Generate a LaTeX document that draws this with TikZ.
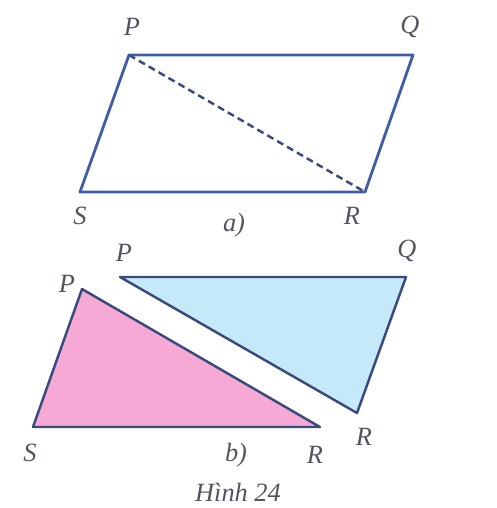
\documentclass[tikz,border=0pt]{standalone}
\usepackage{fontspec}
\setmainfont{Liberation Serif}
\usetikzlibrary{positioning}
\definecolor{edgeblue}{HTML}{3F5DA6}
\definecolor{edgenavy}{HTML}{3A4A7C}
\definecolor{pinkfill}{HTML}{F5A9D4}
\definecolor{cyanfill}{HTML}{C6E9FA}
\definecolor{lblgray}{HTML}{505560}
\begin{document}
\begin{tikzpicture}[x=0.02cm, y=-0.02cm,
    lbl/.style={text=lblgray, font=\itshape\fontsize{15}{17}\selectfont,
      inner sep=0pt},
    side/.style={draw=edgeblue, line width=1.6pt, line join=round},
    piece/.style={draw=edgenavy, line width=1.4pt, line join=round},
    diag/.style={draw=edgenavy, line width=1.4pt, dash pattern=on 4pt off 2.5pt}
  ]
  \useasboundingbox (0,0) rectangle (497,508);
  %---- a) parallelogram ----
  \coordinate (aP) at (129,55);
  \coordinate (aQ) at (413,55);
  \coordinate (aR) at (365,192);
  \coordinate (aS) at (80,192);
  \draw[side] (aP) -- (aQ) -- (aR) -- (aS) -- cycle;
  \draw[diag] (aP) -- (aR);
  \node[lbl] (laP) at (132,27) {P};
  \node[lbl] (laQ) at (410,27) {Q};
  \node[lbl] (laS) at (80,216) {S};
  \node[lbl] (laR) at (352,216) {R};
  \node[lbl] (capA) at (234,225) {a)};
  %---- b) two triangles ----
  \coordinate (bP) at (120,277);
  \coordinate (bQ) at (406,277);
  \coordinate (bR) at (357,413);
  \filldraw[piece, fill=cyanfill] (bP) -- (bQ) -- (bR) -- cycle;
  \coordinate (cP) at (82,289);
  \coordinate (cS) at (33,427);
  \coordinate (cR) at (320,427);
  \filldraw[piece, fill=pinkfill] (cP) -- (cR) -- (cS) -- cycle;
  \node[lbl] (lbP) at (124,253) {P};
  \node[lbl] (lbQ) at (407,251) {Q};
  \node[lbl] (lbR) at (364,437) {R};
  \node[lbl] (lcP) at (67,284) {P};
  \node[lbl] (lcS) at (30,453) {S};
  \node[lbl] (lcR) at (315,455) {R};
  \node[lbl] (capB) at (236,455) {b)};
  \node[lbl] (fig) at (238,492) {Hình 24};
\end{tikzpicture}
\end{document}
